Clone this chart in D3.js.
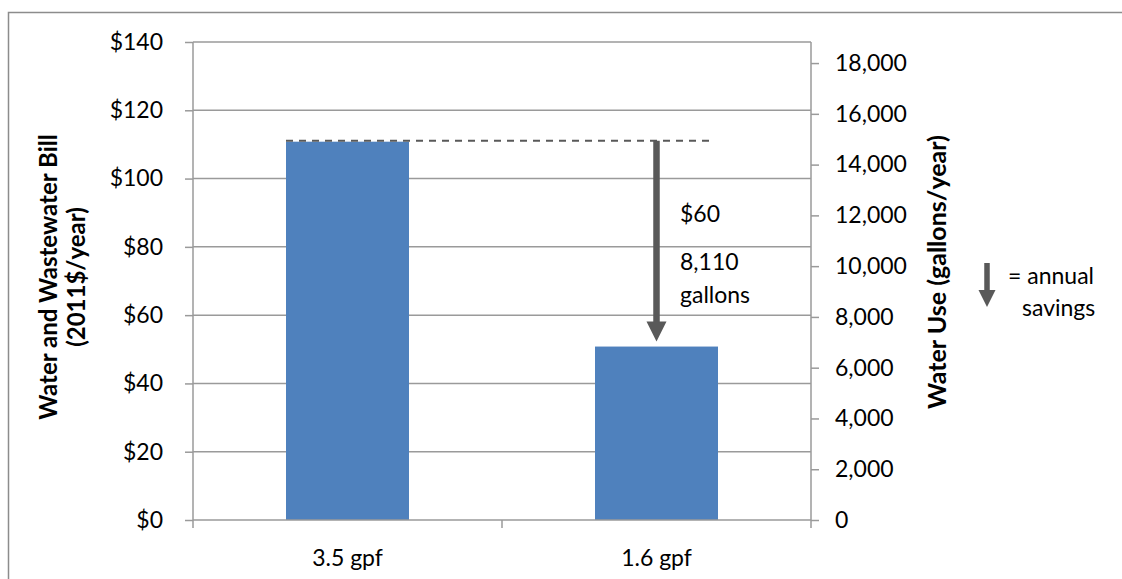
<!DOCTYPE html>
<html>
<head>
<meta charset="utf-8">
<script src="https://cdn.jsdelivr.net/npm/d3@7"></script>
<style>
  html, body { margin: 0; padding: 0; background: #fff; }
  svg { display: block; font-family: Lato, "Open Sans", sans-serif; }
</style>
</head>
<body>
<svg id="chart" width="1122" height="579"></svg>
<script>
// ---- data ----
const categories = ["3.5 gpf", "1.6 gpf"];
const billValues = [110.8, 50.8];          // 2011$/year
const leftTicks = [0, 20, 40, 60, 80, 100, 120, 140];
const rightTicks = [0, 2000, 4000, 6000, 8000, 10000, 12000, 14000, 16000, 18000];
const leftDomain = [0, 140];
const rightDomain = [0, 18830];            // gallons/year (secondary axis)
const savingsLabels = ["$60", "8,110", "gallons"];
const legendLabels = ["= annual", "savings"];

// ---- layout ----
const svg = d3.select("#chart");
const plot = { left: 193, right: 811, top: 42, bottom: 520 };
const gridColor = "#9a9a9a";
const arrowColor = "#595959";
const barColor = "#4F81BD";
const fs = 23;

// outer border
svg.append("rect").attr("x", 8.5).attr("y", 12.5).attr("width", 1300).attr("height", 1000)
  .attr("fill", "none").attr("stroke", "#8c8c8c").attr("stroke-width", 1.5);

const xOuter = d3.scaleBand().domain(categories).range([plot.left, plot.right]);
const yL = d3.scaleLinear().domain(leftDomain).range([plot.bottom, plot.top]);
const yR = d3.scaleLinear().domain(rightDomain).range([plot.bottom, plot.top]);

// gridlines
svg.append("g").selectAll("line").data(leftTicks.filter(d => d > 0)).join("line")
  .attr("x1", plot.left).attr("x2", plot.right)
  .attr("y1", d => yL(d)).attr("y2", d => yL(d))
  .attr("stroke", gridColor).attr("stroke-width", 1.5);

// bars
svg.append("g").selectAll("rect").data(categories).join("rect")
  .attr("x", d => xOuter(d) + xOuter.bandwidth() / 2 - 61.5)
  .attr("width", 123)
  .attr("y", (d, i) => yL(billValues[i]))
  .attr("height", (d, i) => yL(0) - yL(billValues[i]))
  .attr("fill", barColor);

// left axis
const leftAxis = d3.axisLeft(yL).tickValues(leftTicks).tickSize(8).tickPadding(22)
  .tickFormat(d => "$" + d);
const gL = svg.append("g").attr("transform", `translate(${plot.left},0)`).call(leftAxis);
gL.select(".domain").attr("stroke", gridColor).attr("stroke-width", 1.5).attr("d", `M0,${plot.bottom + 8}V${plot.top}`);
gL.selectAll(".tick line").attr("stroke", gridColor).attr("stroke-width", 1.5);
gL.selectAll(".tick text").attr("font-size", fs).attr("font-family", "Lato").attr("fill", "#000");

// right axis
const rightAxis = d3.axisRight(yR).tickValues(rightTicks).tickSize(8).tickPadding(16)
  .tickFormat(d3.format(","));
const gR = svg.append("g").attr("transform", `translate(${plot.right},0)`).call(rightAxis);
gR.select(".domain").attr("stroke", gridColor).attr("stroke-width", 1.5).attr("d", `M0,${plot.bottom + 8}V${plot.top}`);
gR.selectAll(".tick line").attr("stroke", gridColor).attr("stroke-width", 1.5);
gR.selectAll(".tick text").attr("font-size", fs).attr("font-family", "Lato").attr("fill", "#000");

// bottom axis
const xAxis = d3.axisBottom(xOuter).tickSize(0).tickPadding(30);
const gX = svg.append("g").attr("transform", `translate(0,${plot.bottom})`).call(xAxis);
gX.select(".domain").attr("stroke", gridColor).attr("stroke-width", 1.5).attr("d", `M${plot.left},0H${plot.right}`);
gX.selectAll(".tick text").attr("font-size", fs).attr("font-family", "Lato").attr("fill", "#000");
// category separators
svg.append("g").selectAll("line").data([xOuter(categories[1])]).join("line")
  .attr("x1", d => d).attr("x2", d => d).attr("y1", plot.bottom).attr("y2", plot.bottom + 8)
  .attr("stroke", gridColor).attr("stroke-width", 1.5);

// axis titles
const tl = svg.append("text").attr("transform", "translate(57,277) rotate(-90)")
  .attr("text-anchor", "middle").attr("font-weight", "bold").attr("font-size", 24);
tl.append("tspan").attr("x", 0).attr("dy", 0).text("Water and Wastewater Bill");
tl.append("tspan").attr("x", 0).attr("dy", 28).text("(2011$/year)");

svg.append("text").attr("transform", "translate(946,272) rotate(-90)")
  .attr("text-anchor", "middle").attr("font-weight", "bold").attr("font-size", 25)
  .text("Water Use (gallons/year)");

// dashed reference line at top of first bar
const x1c = xOuter(categories[0]) + xOuter.bandwidth() / 2;
const x2c = xOuter(categories[1]) + xOuter.bandwidth() / 2;
svg.append("line").attr("x1", x1c - 61.5).attr("x2", x2c + 54)
  .attr("y1", yL(billValues[0]) - 1).attr("y2", yL(billValues[0]) - 1)
  .attr("stroke", arrowColor).attr("stroke-width", 2).attr("stroke-dasharray", "7,6");

// savings arrow
function arrow(g, cx, y0, y1, shaftW, headW, headH) {
  const p = d3.path();
  p.moveTo(cx - shaftW / 2, y0);
  p.lineTo(cx + shaftW / 2, y0);
  p.lineTo(cx + shaftW / 2, y1 - headH);
  p.lineTo(cx + headW / 2, y1 - headH);
  p.lineTo(cx, y1);
  p.lineTo(cx - headW / 2, y1 - headH);
  p.lineTo(cx - shaftW / 2, y1 - headH);
  p.closePath();
  g.append("path").attr("d", p.toString()).attr("fill", arrowColor);
}
arrow(svg, x2c, yL(billValues[0]) - 1, yL(billValues[1]) - 5, 6.5, 20, 20);

// savings labels
const sl = svg.append("g").attr("font-size", fs);
sl.append("text").attr("x", 680).attr("y", 222).text(savingsLabels[0]);
sl.append("text").attr("x", 680).attr("y", 270).text(savingsLabels[1]);
sl.append("text").attr("x", 680).attr("y", 303).text(savingsLabels[2]);

// legend
arrow(svg, 987, 263, 307, 5.5, 17, 17);
const lg = svg.append("g").attr("font-size", fs);
lg.append("text").attr("x", 1008).attr("y", 284).text(legendLabels[0]);
lg.append("text").attr("x", 1022).attr("y", 316).text(legendLabels[1]);
</script>
</body>
</html>
